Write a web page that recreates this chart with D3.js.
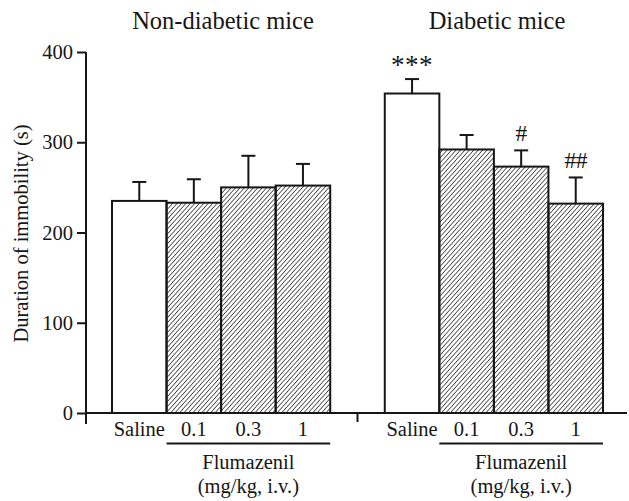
<!DOCTYPE html>
<html>
<head>
<meta charset="utf-8">
<script src="https://cdn.jsdelivr.net/npm/d3@7"></script>
<style>
  html, body { margin: 0; padding: 0; background: #fff; }
  svg { display: block; }
  text { font-family: "Liberation Serif", "Times New Roman", serif; fill: #161616; }
</style>
</head>
<body>
<svg id="chart" width="629" height="501"></svg>
<script>
// Forced swim test: immobility time, saline vs. flumazenil doses
const groups = ["Non-diabetic mice", "Diabetic mice"];
const doses = ["Saline", "0.1", "0.3", "1"];
const nonDiabeticMean = [235, 233, 250, 252];
const nonDiabeticSem = [21, 26, 35, 24];
const diabeticMean = [354, 292, 273, 232];
const diabeticSem = [16, 16, 18, 29];
const diabeticMarks = ["***", "", "#", "##"];
const yTicks = [0, 100, 200, 300, 400];

const svg = d3.select("#chart");
const ink = "#161616";

// hatch fill for flumazenil bars
const defs = svg.append("defs");
defs.append("pattern")
  .attr("id", "hatch")
  .attr("patternUnits", "userSpaceOnUse")
  .attr("width", 3.3).attr("height", 3.3)
  .attr("patternTransform", "rotate(42)")
  .append("line")
  .attr("x1", 0).attr("y1", 0).attr("x2", 0).attr("y2", 3.3)
  .attr("stroke", "#2e2e2e").attr("stroke-width", 1.5);

// slots: 4 non-diabetic, one spacer, 4 diabetic
const slots = [];
doses.forEach((d, i) => slots.push({ key: "N" + i, group: 0, dose: d, idx: i,
  mean: nonDiabeticMean[i], sem: nonDiabeticSem[i], mark: "" }));
slots.push({ key: "gap" });
doses.forEach((d, i) => slots.push({ key: "D" + i, group: 1, dose: d, idx: i,
  mean: diabeticMean[i], sem: diabeticSem[i], mark: diabeticMarks[i] }));

const x = d3.scaleBand().domain(slots.map(s => s.key)).range([112, 603]).padding(0);
const y = d3.scaleLinear().domain([0, 400]).range([413, 52]);
const xAxisX0 = 86, xAxisX1 = 627;

const bars = slots.filter(s => s.key !== "gap");

// bars
svg.append("g").selectAll("rect").data(bars).join("rect")
  .attr("x", d => x(d.key))
  .attr("y", d => y(d.mean))
  .attr("width", x.bandwidth())
  .attr("height", d => y(0) - y(d.mean))
  .attr("fill", d => d.idx === 0 ? "#fff" : "url(#hatch)")
  .attr("stroke", ink).attr("stroke-width", 2);

// error bars (upper half only)
const eb = svg.append("g").attr("stroke", ink).attr("stroke-width", 2);
bars.forEach(d => {
  const cx = x(d.key) + x.bandwidth() / 2;
  eb.append("line").attr("x1", cx).attr("x2", cx)
    .attr("y1", y(d.mean)).attr("y2", y(d.mean + d.sem));
  eb.append("line").attr("x1", cx - 7).attr("x2", cx + 7)
    .attr("y1", y(d.mean + d.sem)).attr("y2", y(d.mean + d.sem));
});

// significance marks
svg.append("g").selectAll("text").data(bars.filter(d => d.mark)).join("text")
  .attr("x", d => x(d.key) + x.bandwidth() / 2)
  .attr("y", d => y(d.mean + d.sem) - (d.mark === "***" ? 5 : 9))
  .attr("text-anchor", "middle")
  .attr("font-size", d => d.mark === "***" ? 27 : 23.5)
  .attr("letter-spacing", d => d.mark === "***" ? 0.5 : -0.5)
  .text(d => d.mark);

// y axis
const yAxis = d3.axisLeft(y).tickValues(yTicks).tickSize(9).tickPadding(4);
const gy = svg.append("g").attr("transform", `translate(${xAxisX0},0)`).call(yAxis);
gy.select(".domain").remove();
gy.selectAll(".tick line").attr("stroke", ink).attr("stroke-width", 2);
gy.selectAll(".tick text").attr("font-size", 20.5)
  .attr("font-family", "'Liberation Serif', serif").attr("fill", ink);
svg.append("line").attr("x1", xAxisX0).attr("x2", xAxisX0)
  .attr("y1", y(400)).attr("y2", y(0) + 11)
  .attr("stroke", ink).attr("stroke-width", 2);

// x axis line with a separator tick between the groups
svg.append("line").attr("x1", xAxisX0).attr("x2", xAxisX1)
  .attr("y1", y(0)).attr("y2", y(0))
  .attr("stroke", ink).attr("stroke-width", 2);
const gapX = x("gap") + x.bandwidth() / 2;
svg.append("line").attr("x1", gapX).attr("x2", gapX)
  .attr("y1", y(0)).attr("y2", y(0) + 9)
  .attr("stroke", ink).attr("stroke-width", 2);

// dose labels
svg.append("g").selectAll("text").data(bars).join("text")
  .attr("x", d => x(d.key) + x.bandwidth() / 2)
  .attr("y", 436)
  .attr("text-anchor", "middle")
  .attr("font-size", 20.5)
  .text(d => d.dose);

// flumazenil brackets, captions and group titles
groups.forEach((g, gi) => {
  const p = gi === 0 ? "N" : "D";
  const first = x(p + "1");
  const last = x(p + "3") + x.bandwidth();
  const cx = (first + last) / 2;
  svg.append("line").attr("x1", first).attr("x2", last)
    .attr("y1", 443.5).attr("y2", 443.5)
    .attr("stroke", ink).attr("stroke-width", 2);
  svg.append("text").attr("x", cx).attr("y", 469)
    .attr("text-anchor", "middle").attr("font-size", 20.5).text("Flumazenil");
  svg.append("text").attr("x", cx).attr("y", 493)
    .attr("text-anchor", "middle").attr("font-size", 20.5).text("(mg/kg, i.v.)");

  svg.append("text").attr("x", gi === 0 ? 223 : 497).attr("y", 29)
    .attr("text-anchor", "middle").attr("font-size", 24.5).text(g);
});

// y axis title
svg.append("text")
  .attr("transform", "translate(28,233.5) rotate(-90)")
  .attr("text-anchor", "middle")
  .attr("font-size", 20.5)
  .text("Duration of immobility (s)");
</script>
</body>
</html>
